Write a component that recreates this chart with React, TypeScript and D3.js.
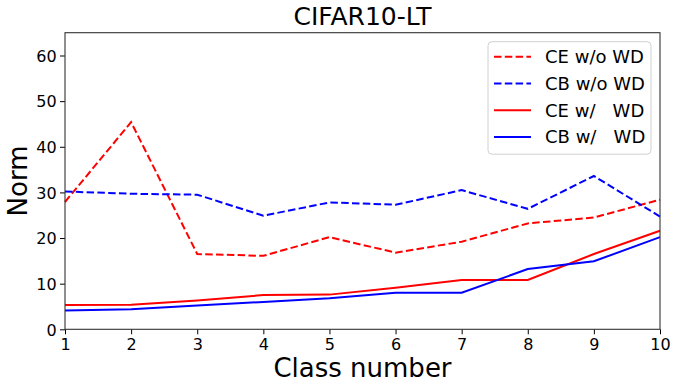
import React, { useEffect, useRef } from 'react';
import * as d3 from 'd3';

// class index on the x axis
const classes = [1, 2, 3, 4, 5, 6, 7, 8, 9, 10];

// norm per class
const ceNoWd = [27.9, 45.4, 16.5, 16.1, 20.2, 16.8, 19.2, 23.2, 24.5, 28.4];
const cbNoWd = [30.2, 29.7, 29.5, 24.9, 27.8, 27.3, 30.5, 26.4, 33.6, 24.7];
const ceWd = [5.3, 5.4, 6.3, 7.5, 7.6, 9.1, 10.8, 10.8, 16.5, 21.6];
const cbWd = [4.1, 4.4, 5.2, 6.0, 6.8, 8.0, 8.0, 13.2, 14.9, 20.2];

const yTicks = [0, 10, 20, 30, 40, 50, 60];

const series = [
  { name: 'CE w/o WD', values: ceNoWd, color: '#ff0000', dashed: true },
  { name: 'CB w/o WD', values: cbNoWd, color: '#0000ff', dashed: true },
  { name: 'CE w/   WD', values: ceWd, color: '#ff0000', dashed: false },
  { name: 'CB w/   WD', values: cbWd, color: '#0000ff', dashed: false },
];

function App() {
  const svgRef = useRef<SVGSVGElement>(null);

  useEffect(() => {
    const width = 677;
    const height = 389;
    const svg = d3.select(svgRef.current)
      .attr('width', width)
      .attr('height', height);
    svg.selectAll('*').remove();

    const margin = { top: 32.7, right: 17, bottom: 59.7, left: 65 };
    const innerWidth = width - margin.left - margin.right;
    const innerHeight = height - margin.top - margin.bottom;
    const font = 'DejaVu Sans, sans-serif';

    const g = svg.append('g')
      .attr('transform', `translate(${margin.left},${margin.top})`);

    const x = d3.scaleLinear().domain([1, 10]).range([0, innerWidth]);
    const y = d3.scaleLinear().domain([0, 65]).range([innerHeight, 0]);

    // lines
    const line = d3.line<number>()
      .x((d, i) => x(classes[i]))
      .y(d => y(d));

    series.forEach(s => {
      g.append('path')
        .datum(s.values)
        .attr('d', line)
        .attr('fill', 'none')
        .attr('stroke', s.color)
        .attr('stroke-width', 2)
        .attr('stroke-dasharray', s.dashed ? '7.5,3.3' : null);
    });

    // X axis
    const xAxis = g.append('g')
      .attr('transform', `translate(0,${innerHeight})`)
      .call(d3.axisBottom(x).tickValues(classes).tickFormat(d3.format('d')).tickSize(5).tickSizeOuter(0));
    xAxis.selectAll('text')
      .attr('font-size', '16px')
      .attr('font-family', font)
      .attr('fill', '#000')
      .attr('y', 20.7)
      .attr('dy', null);

    // Y axis
    const yAxis = g.append('g')
      .call(d3.axisLeft(y).tickValues(yTicks).tickSize(5).tickSizeOuter(0));
    yAxis.selectAll('text')
      .attr('font-size', '16px')
      .attr('font-family', font)
      .attr('fill', '#000')
      .attr('x', -8.3)
      .attr('dy', '0.36em');

    [xAxis, yAxis].forEach(a => {
      a.select('.domain').remove();
      a.selectAll('line').attr('stroke', '#000').attr('stroke-width', 1);
    });

    // frame
    g.append('rect')
      .attr('x', 0)
      .attr('y', 0)
      .attr('width', innerWidth)
      .attr('height', innerHeight)
      .attr('fill', 'none')
      .attr('stroke', '#333')
      .attr('stroke-width', 1.1);

    // Title and axis labels
    svg.append('text')
      .attr('x', margin.left + innerWidth / 2)
      .attr('y', 25)
      .attr('text-anchor', 'middle')
      .attr('font-size', '25px')
      .attr('font-family', font)
      .text('CIFAR10-LT');

    svg.append('text')
      .attr('x', margin.left + innerWidth / 2)
      .attr('y', 376.7)
      .attr('text-anchor', 'middle')
      .attr('font-size', '26px')
      .attr('font-family', font)
      .text('Class number');

    svg.append('text')
      .attr('transform', `translate(27.3,${margin.top + innerHeight / 2}) rotate(-90)`)
      .attr('text-anchor', 'middle')
      .attr('font-size', '26px')
      .attr('font-family', font)
      .text('Norm');

    // Legend
    const lg = svg.append('g').attr('transform', 'translate(488,41.7)');
    lg.append('rect')
      .attr('width', 163)
      .attr('height', 112.5)
      .attr('rx', 4)
      .attr('fill', 'rgba(255,255,255,0.8)')
      .attr('stroke', '#d0d0d0')
      .attr('stroke-width', 1);

    series.forEach((s, i) => {
      const cy = 15 + i * 26.8;
      lg.append('line')
        .attr('x1', 6)
        .attr('x2', 43)
        .attr('y1', cy)
        .attr('y2', cy)
        .attr('stroke', s.color)
        .attr('stroke-width', 2)
        .attr('stroke-dasharray', s.dashed ? '7.5,3.3' : null);
      lg.append('text')
        .attr('x', 57)
        .attr('y', cy)
        .attr('dy', '0.35em')
        .attr('font-size', '18px')
        .attr('font-family', font)
        .style('white-space', 'pre')
        .text(s.name);
    });
  }, []);

  return (
    <svg ref={svgRef} style={{ position: 'absolute', left: 0, top: 0 }}></svg>
  );
}

export default App;
